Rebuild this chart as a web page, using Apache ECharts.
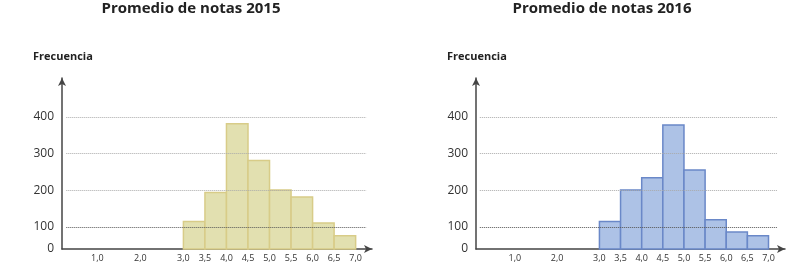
<!DOCTYPE html>
<html>
<head>
<meta charset="utf-8">
<script src="https://cdn.jsdelivr.net/npm/echarts@6/dist/echarts.min.js"></script>
<style>html,body{margin:0;padding:0;background:#fff;}#c{width:790px;height:265px;}</style>
</head>
<body>
<div id="c"></div>
<script>
// ---- data ----
const binStarts = [3.0, 3.5, 4.0, 4.5, 5.0, 5.5, 6.0, 6.5];
const binWidth = 0.5;
const freq2015 = [115, 194, 381, 281, 201, 182, 111, 76];
const freq2016 = [115, 201, 234, 378, 255, 120, 86, 76];
const xTickLabels = [1.0, 2.0, 3.0, 3.5, 4.0, 4.5, 5.0, 5.5, 6.0, 6.5, 7.0];
const yTickLabels = [0, 100, 200, 300, 400];
const gridValuesLight = [200, 300, 400];
const gridValuesDark = [100];
const titles = ['Promedio de notas 2015', 'Promedio de notas 2016'];
const yName = 'Frecuencia';

const FONT = '"Open Sans", "Noto Sans", sans-serif';
const chart = echarts.init(document.getElementById('c'), null, {renderer: 'canvas'});

const panels = [
  {left: 62, width: 310, xmin: 0.18, xmax: 7.38, gx0: 0.28, gx1: 7.25, data: freq2015,
   fill: '#e2e0b0', stroke: '#d8cc88', titleX: 191, nameX: 33},
  {left: 476, width: 309, xmin: 0.08, xmax: 7.39, gx0: 0.17, gx1: 7.22, data: freq2016,
   fill: '#adc2e6', stroke: '#6a88c8', titleX: 602, nameX: 447}
];

const grids = [], xAxes = [], yAxes = [], series = [], titleArr = [], graphics = [];
panels.forEach((p, i) => {
  grids.push({left: p.left, width: p.width, top: 78, height: 171});
  xAxes.push({
    type: 'value', gridIndex: i, min: p.xmin, max: p.xmax,
    splitLine: {show: false}, axisTick: {show: false},
    axisLine: {show: true, symbol: ['none', 'arrow'], symbolSize: [6, 8],
      lineStyle: {color: '#444', width: 1.5}},
    axisLabel: {customValues: xTickLabels, fontSize: 9, color: '#333', margin: 5, fontFamily: FONT,
      formatter: v => v.toFixed(1).replace('.', ',')}
  });
  yAxes.push({
    type: 'value', gridIndex: i, min: 0, max: 506,
    breaks: [{start: 0, end: 40, gap: 0}],
    breakArea: {show: false},
    splitLine: {show: false}, axisTick: {show: false},
    axisLine: {show: true, symbol: ['none', 'arrow'], symbolSize: [6, 8],
      lineStyle: {color: '#444', width: 1.5}},
    axisLabel: {customValues: yTickLabels, fontSize: 12, color: '#333', margin: 8, fontFamily: FONT}
  });
  const mkLines = (vals) => vals.map(v => [{coord: [p.gx0, v]}, {coord: [p.gx1, v]}]);
  series.push({
    type: 'line', xAxisIndex: i, yAxisIndex: i, data: [], z: 1, silent: true,
    markLine: {silent: true, symbol: ['none', 'none'], label: {show: false},
      lineStyle: {color: '#aaa', type: 'dotted', width: 1}, data: mkLines(gridValuesLight)}
  });
  series.push({
    type: 'custom', xAxisIndex: i, yAxisIndex: i, z: 2,
    data: binStarts.map((s, k) => [s, s + binWidth, p.data[k]]),
    renderItem: (params, api) => {
      const a = api.coord([api.value(0), 0]);
      const b = api.coord([api.value(1), api.value(2)]);
      return {type: 'rect', shape: {x: a[0], y: b[1], width: b[0] - a[0], height: a[1] - b[1]},
        style: {fill: p.fill, stroke: p.stroke, lineWidth: 1.5}};
    }
  });
  series.push({
    type: 'line', xAxisIndex: i, yAxisIndex: i, data: [], z: 3, silent: true,
    markLine: {silent: true, symbol: ['none', 'none'], label: {show: false},
      lineStyle: {color: '#555', type: 'dotted', width: 1}, data: mkLines(gridValuesDark)}
  });
  titleArr.push({text: titles[i], left: p.titleX, top: 1, padding: 0, textAlign: 'center',
    textStyle: {fontSize: 15, fontWeight: 'bold', color: '#222', fontFamily: FONT}});
  graphics.push({type: 'text', left: p.nameX, top: 51,
    style: {text: yName, fill: '#222', font: 'bold 11px "Open Sans", "Noto Sans", sans-serif'}});
});

chart.setOption({
  animation: false,
  title: titleArr,
  grid: grids,
  xAxis: xAxes,
  yAxis: yAxes,
  series: series,
  graphic: graphics
});
</script>
</body>
</html>
